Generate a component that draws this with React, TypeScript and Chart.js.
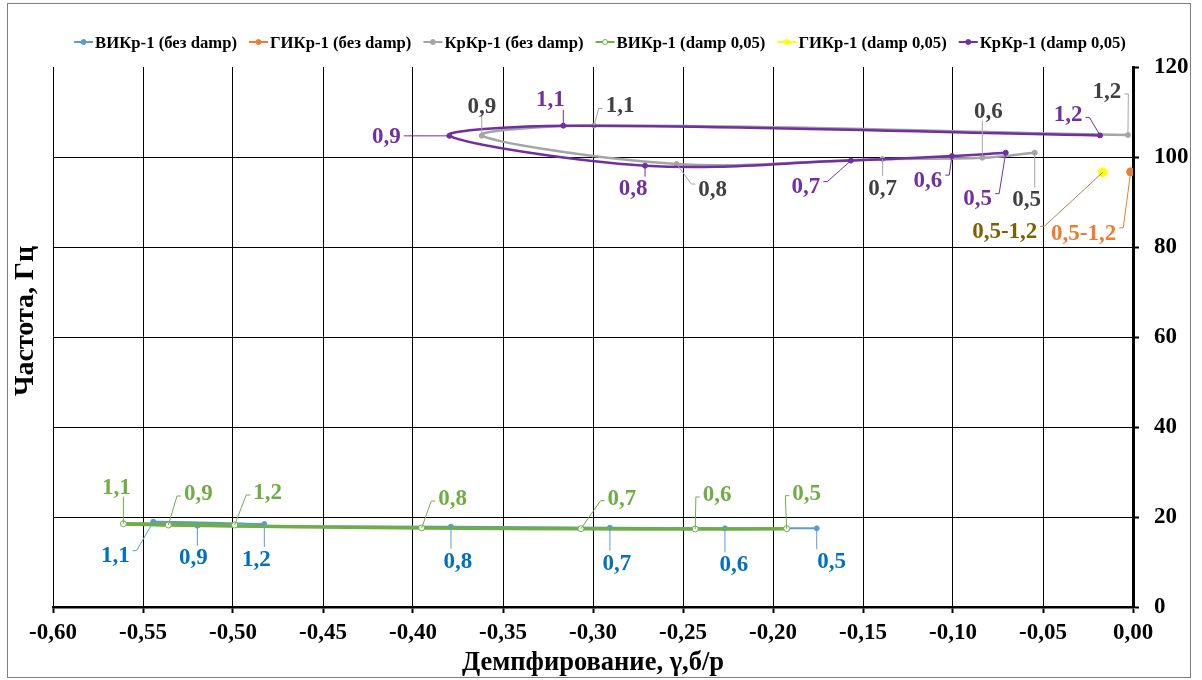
import React, { useEffect, useRef } from "react";
import { Chart, registerables } from "chart.js";

Chart.register(...registerables);

// Parameter values (point labels)
const params = ["0,5", "0,6", "0,7", "0,8", "0,9", "1,1", "1,2"];
const rangeLabel = ["0,5-1,2"];

// ВИКр-1 (без damp)
const vikrX = [-0.1757, -0.2267, -0.2906, -0.3789, -0.5198, -0.5443, -0.4826];
const vikrY = [17.49, 17.49, 17.62, 17.84, 18.07, 18.96, 18.44];
// ГИКр-1 (без damp)
const gikrX = [-0.0013];
const gikrY = [96.7];
// КрКр-1 (без damp)
const krkrX = [-0.0546, -0.0837, -0.1391, -0.2535, -0.3618, -0.2994, -0.0028];
const krkrY = [100.96, 99.84, 99.56, 98.44, 104.73, 107.0, 104.9];
// ВИКр-1 (damp 0,05)
const vikrDampX = [-0.1924, -0.2432, -0.3067, -0.3952, -0.5359, -0.5609, -0.4991];
const vikrDampY = [17.4, 17.33, 17.4, 17.56, 18.22, 18.51, 18.22];
// ГИКр-1 (damp 0,05)
const gikrDampX = [-0.0168];
const gikrDampY = [96.6];
// КрКр-1 (damp 0,05)
const krkrDampX = [-0.0707, -0.1006, -0.1567, -0.2711, -0.3798, -0.3165, -0.0183];
const krkrDampY = [100.96, 100.2, 99.2, 98.07, 104.7, 106.96, 104.8];

const seriesNames = [
  "ВИКр-1 (без damp)",
  "ГИКр-1 (без damp)",
  "КрКр-1 (без damp)",
  "ВИКр-1 (damp 0,05)",
  "ГИКр-1 (damp 0,05)",
  "КрКр-1 (damp 0,05)",
];

const xTitle = "Демпфирование, γ,б/р";
const yTitle = "Частота, Гц";

const zip = (xs: number[], ys: number[]) => xs.map((x, i) => ({ x, y: ys[i] }));

// label placement (pixel offsets from the point) — layout only
const labelSpecs = [
  {
    ds: 0, texts: params, color: "#0070C0", leader: "#5B9BD5",
    offsets: [[15, 32], [9, 35], [7, 34], [7, 33], [-4, 31], [-38, 33], [-8, 34]],
  },
  { ds: 1, texts: rangeLabel, color: "#ED7D31", leader: "#ED7D31", offsets: [[-47, 60]] },
  {
    ds: 2, texts: params, color: "#404040", leader: "#A5A5A5",
    offsets: [[-8, 46], [6, -48], [0, 28], [36, 24], [0, -31], [26, -21], [-21, -45]],
  },
  {
    ds: 3, texts: params, color: "#70AD47", leader: "#70AD47",
    offsets: [[20, -37], [22, -36], [41, -32], [31, -31], [30, -33], [-7, -38], [33, -34]],
  },
  { ds: 4, texts: rangeLabel, color: "#7F6000", leader: "#A08A50", offsets: [[-98, 58]] },
  {
    ds: 5, texts: params, color: "#7030A0", leader: "#7030A0",
    offsets: [[-28, 45], [-24, 23], [-45, 25], [-12, 22], [-63, -1], [-13, -27], [-32, -22]],
  },
];

const SERIF = '"Liberation Serif", "Times New Roman", serif';

const decorPlugin = {
  id: "decor",
  afterDatasetsDraw(chart: any) {
    const ctx = chart.ctx as CanvasRenderingContext2D;
    ctx.save();
    ctx.font = `bold 23px ${SERIF}`;
    labelSpecs.forEach((spec) => {
      const meta = chart.getDatasetMeta(spec.ds);
      spec.texts.forEach((text, i) => {
        const el = meta.data[i];
        if (!el) return;
        const px = el.x;
        const py = el.y;
        const cx = px + spec.offsets[i][0];
        const cy = py + spec.offsets[i][1];
        const w = ctx.measureText(text).width;
        const h = 16;
        const left = cx - w / 2 - 3;
        const right = cx + w / 2 + 3;
        const top = cy - h / 2 - 3;
        const bottom = cy + h / 2 + 3;
        const nx = Math.min(Math.max(px, left), right);
        const ny = Math.min(Math.max(py, top), bottom);
        const dist = Math.hypot(px - nx, py - ny);
        if (dist > 7) {
          ctx.strokeStyle = spec.leader;
          ctx.lineWidth = 1;
          ctx.beginPath();
          if (px > right || px < left) {
            const sx = px > right ? right : left;
            const sy = Math.min(Math.max(py, cy - 4), cy + 4);
            ctx.moveTo(sx, sy);
            const stub = px > right ? sx + 4 : sx - 4;
            ctx.lineTo(stub, sy);
            ctx.lineTo(px, py);
          } else {
            ctx.moveTo(nx, ny);
            ctx.lineTo(px, py);
          }
          ctx.stroke();
        }
        ctx.fillStyle = spec.color;
        ctx.textAlign = "center";
        ctx.textBaseline = "alphabetic";
        ctx.fillText(text, cx, cy + 7.8);
      });
    });
    ctx.restore();
  },
  afterDraw(chart: any) {
    const ctx = chart.ctx as CanvasRenderingContext2D;
    ctx.save();
    // legend
    ctx.font = `bold 16.7px ${SERIF}`;
    const ds = chart.data.datasets;
    const lineW = 19;
    const gapText = 2;
    const gapItem = 12;
    const widths = ds.map((d: any) => lineW + gapText + ctx.measureText(d.label).width);
    const total = widths.reduce((a: number, b: number) => a + b, 0) + gapItem * (ds.length - 1);
    let x = 600 - total / 2;
    const y = 42;
    ds.forEach((d: any, i: number) => {
      ctx.strokeStyle = d.borderColor;
      ctx.lineWidth = 2;
      ctx.beginPath();
      ctx.moveTo(x, y);
      ctx.lineTo(x + lineW, y);
      ctx.stroke();
      ctx.beginPath();
      ctx.arc(x + lineW / 2, y, 2.5, 0, Math.PI * 2);
      ctx.fillStyle = d.pointBackgroundColor;
      ctx.fill();
      ctx.strokeStyle = d.pointBorderColor;
      ctx.lineWidth = 1;
      ctx.stroke();
      ctx.fillStyle = "#000";
      ctx.textAlign = "left";
      ctx.textBaseline = "alphabetic";
      ctx.fillText(d.label, x + lineW + gapText, y + 5.5);
      x += widths[i] + gapItem;
    });
    // y title on the left
    ctx.translate(26, 321);
    ctx.rotate(-Math.PI / 2);
    ctx.font = `bold 28px ${SERIF}`;
    ctx.fillStyle = "#000";
    ctx.textAlign = "center";
    ctx.textBaseline = "middle";
    ctx.fillText(yTitle, 0, 0);
    ctx.setTransform(1, 0, 0, 1, 0, 0);
    // outer border
    ctx.strokeStyle = "#7f7f7f";
    ctx.lineWidth = 1;
    ctx.strokeRect(7.5, 3.5, 1183, 674);
    ctx.restore();
  },
};

export default function App() {
  const ref = useRef<HTMLCanvasElement>(null);
  useEffect(() => {
    if (!ref.current) return;
    const mk = (
      i: number, xs: number[], ys: number[], color: string, lw: number,
      radius: number, fill: string, border: string, order: number
    ) => ({
      label: seriesNames[i],
      data: zip(xs, ys),
      showLine: true,
      tension: 0.35,
      borderColor: color,
      backgroundColor: color,
      borderWidth: lw,
      pointRadius: radius,
      pointBackgroundColor: fill,
      pointBorderColor: border,
      pointBorderWidth: 1,
      order,
    });
    const chart = new Chart(ref.current, {
      type: "scatter",
      data: {
        datasets: [
          mk(0, vikrX, vikrY, "#5B9BD5", 2, 2.5, "#5B9BD5", "#5B9BD5", 6),
          mk(1, gikrX, gikrY, "#ED7D31", 2, 4, "#ED7D31", "#ED7D31", 5),
          mk(2, krkrX, krkrY, "#A5A5A5", 2.5, 2.5, "#A5A5A5", "#A5A5A5", 4),
          mk(3, vikrDampX, vikrDampY, "#70AD47", 3.5, 3, "#FFFFFF", "#70AD47", 3),
          mk(4, gikrDampX, gikrDampY, "#FFFF00", 2, 4.5, "#FFFF00", "#FFFF00", 2),
          mk(5, krkrDampX, krkrDampY, "#7030A0", 2.5, 2.5, "#7030A0", "#7030A0", 1),
        ] as any,
      },
      options: {
        responsive: false,
        animation: false,
        layout: { padding: { left: 53, top: 67, right: 0, bottom: 0 } },
        plugins: { legend: { display: false }, tooltip: { enabled: false } },
        scales: {
          x: {
            type: "linear",
            position: "bottom",
            min: -0.6,
            max: 0,
            ticks: {
              stepSize: 0.05,
              autoSkip: false,
              maxRotation: 0,
              padding: 6,
              color: "#000",
              font: { family: SERIF, size: 23, weight: "bold" },
              callback: (v: any) => {
                const n = Number(v);
                if (Math.abs(n) < 1e-9) return "0,00";
                return n.toFixed(2).replace(".", ",");
              },
            },
            grid: { color: "#000", lineWidth: 1, tickLength: 6, tickColor: "#000", tickWidth: 2 },
            border: { color: "#000", width: 2.5 },
            title: {
              display: true,
              text: xTitle,
              color: "#000",
              font: { family: SERIF, size: 26.5, weight: "bold" },
              padding: { top: 0, bottom: 1 },
            },
            afterFit: (s: any) => {
              s.height = 73;
            },
          },
          y: {
            type: "linear",
            position: "right",
            min: 0,
            max: 120,
            ticks: {
              stepSize: 20,
              padding: 15,
              color: "#000",
              font: { family: SERIF, size: 23, weight: "bold" },
            },
            grid: {
              color: (c: any) => (c.tick && c.tick.value === 120 ? "rgba(0,0,0,0)" : "#000"),
              lineWidth: 1,
              tickLength: 6,
              tickColor: "#000",
              tickWidth: 2,
            },
            border: { color: "#000", width: 3 },
            afterFit: (s: any) => {
              s.width = 69;
            },
          },
        },
      } as any,
      plugins: [decorPlugin],
    });
    return () => chart.destroy();
  }, []);
  return (
    <canvas
      ref={ref}
      width={1202}
      height={680}
      style={{ position: "absolute", left: 0, top: 0, width: 1202, height: 680 }}
    />
  );
}
